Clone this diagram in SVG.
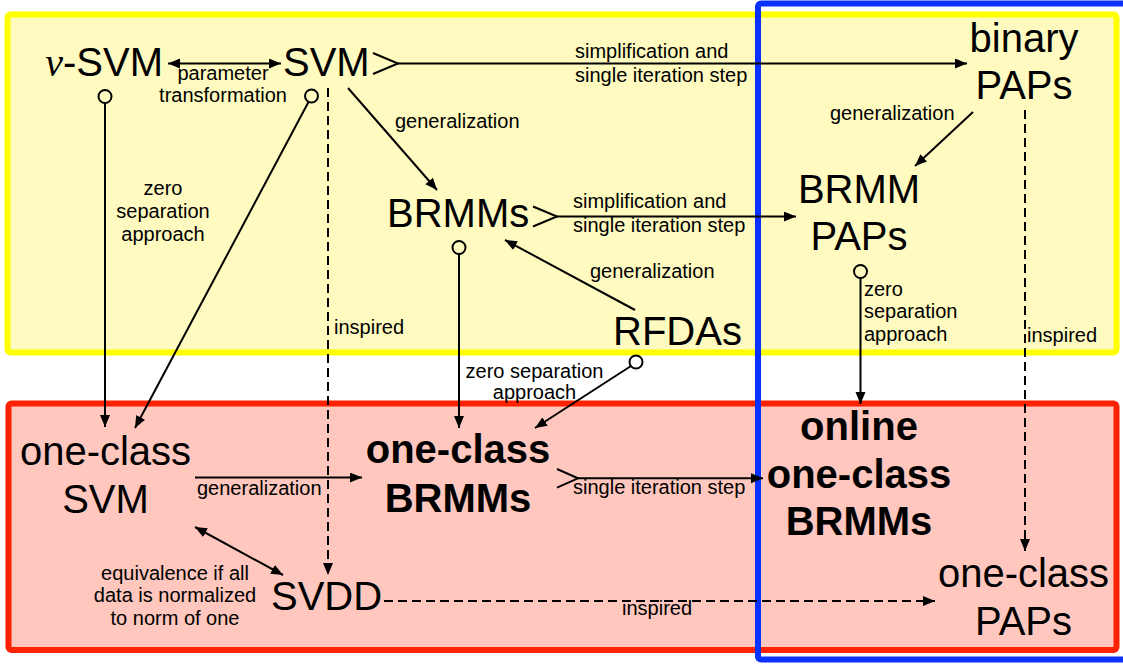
<svg xmlns="http://www.w3.org/2000/svg" width="1123" height="664" viewBox="0 0 1123 664">
<style>
text{font-family:"Liberation Sans",Arial,sans-serif;fill:#000}
.n{font-size:40px}
.b{font-size:40px;font-weight:bold}
.l{font-size:20px}
.c{stroke:#000;stroke-width:2;fill:none}
.d{stroke-dasharray:9,5}
.m{marker-end:url(#ah)}
.o{stroke:#000;stroke-width:2;fill:none}
</style>
<defs>
<marker id="ah" markerUnits="userSpaceOnUse" markerWidth="14" markerHeight="12" refX="12" refY="5" orient="auto-start-reverse">
<path d="M0,0 L12,5 L0,10 z" fill="#000" stroke="none"/>
</marker>
</defs>
<rect width="1123" height="664" fill="#fff"/>
<g id="groups">
<rect x="7.5" y="14.5" width="1109" height="338" rx="3" fill="#fffbc0" stroke="#ffff00" stroke-width="6"/>
<rect x="8.5" y="403.5" width="1108" height="246.5" rx="3" fill="#ffc7bd" stroke="#ff2200" stroke-width="6"/>
<rect x="758" y="3.5" width="380" height="656" rx="3" fill="none" stroke="#0a32ff" stroke-width="6"/>
</g>
<g id="connectors">
<!-- nu-SVM <-> SVM -->
<line class="c" x1="168" y1="63.5" x2="281" y2="63.5" marker-start="url(#ah)" marker-end="url(#ah)"/>
<text class="l" x="223" y="80" text-anchor="middle">parameter</text>
<text class="l" x="223" y="102" text-anchor="middle">transformation</text>
<!-- SVM -> binary PAPs -->
<path class="o" d="M373,53 L398,63.5 L373,74"/>
<line class="c m" x1="398" y1="63.5" x2="967" y2="63.5"/>
<text class="l" x="575" y="58">simplification and</text>
<text class="l" x="575" y="82">single iteration step</text>
<!-- SVM -> BRMMs -->
<line class="c m" x1="348" y1="88" x2="437" y2="190"/>
<text class="l" x="395" y="128">generalization</text>
<!-- nu-SVM -> one-class SVM -->
<circle class="o" cx="105" cy="96.5" r="6.5"/>
<line class="c m" x1="105" y1="103" x2="105" y2="427"/>
<text class="l" x="163" y="195" text-anchor="middle">zero</text>
<text class="l" x="163" y="218" text-anchor="middle">separation</text>
<text class="l" x="163" y="241" text-anchor="middle">approach</text>
<!-- SVM -> one-class SVM -->
<circle class="o" cx="311.5" cy="96" r="6.5"/>
<line class="c m" x1="308.5" y1="102" x2="135" y2="428"/>
<!-- SVM -> SVDD dashed -->
<line class="c d m" x1="328" y1="88" x2="328" y2="575"/>
<text class="l" x="334" y="334">inspired</text>
<!-- BRMMs -> BRMM PAPs -->
<path class="o" d="M533,206.5 L557,216.5 L533,226.5"/>
<line class="c m" x1="557" y1="216.5" x2="796" y2="216.5"/>
<text class="l" x="573" y="208">simplification and</text>
<text class="l" x="573" y="232">single iteration step</text>
<!-- binary PAPs -> BRMM PAPs -->
<line class="c m" x1="973" y1="112" x2="915" y2="166"/>
<text class="l" x="830" y="120">generalization</text>
<!-- RFDAs -> BRMMs -->
<line class="c m" x1="635" y1="310" x2="505" y2="240"/>
<text class="l" x="590" y="278">generalization</text>
<!-- BRMMs -> one-class BRMMs -->
<circle class="o" cx="459" cy="247.5" r="6.5"/>
<line class="c m" x1="459" y1="254" x2="459" y2="428"/>
<text class="l" x="534.5" y="378" text-anchor="middle">zero separation</text>
<text class="l" x="534.5" y="399" text-anchor="middle">approach</text>
<!-- RFDAs -> one-class BRMMs -->
<circle class="o" cx="636" cy="362" r="6.5"/>
<line class="c m" x1="631" y1="366" x2="535" y2="428"/>
<!-- BRMM PAPs -> online one-class BRMMs -->
<circle class="o" cx="860.5" cy="271.5" r="6.5"/>
<line class="c m" x1="860.5" y1="278" x2="860.5" y2="404"/>
<text class="l" x="864" y="296">zero</text>
<text class="l" x="864" y="318">separation</text>
<text class="l" x="864" y="341">approach</text>
<!-- binary PAPs -> one-class PAPs dashed -->
<line class="c d m" x1="1025" y1="110" x2="1025" y2="551"/>
<text class="l" x="1027" y="342">inspired</text>
<!-- one-class SVM -> one-class BRMMs -->
<line class="c m" x1="195" y1="477.5" x2="362" y2="477.5"/>
<text class="l" x="197" y="495">generalization</text>
<!-- one-class SVM <-> SVDD -->
<line class="c" x1="195" y1="527" x2="283" y2="575" marker-start="url(#ah)" marker-end="url(#ah)"/>
<text class="l" x="175" y="580" text-anchor="middle">equivalence if all</text>
<text class="l" x="175" y="602" text-anchor="middle">data is normalized</text>
<text class="l" x="175" y="625" text-anchor="middle">to norm of one</text>
<!-- one-class BRMMs -> online one-class BRMMs -->
<path class="o" d="M557,469 L578,478.3 L557,487.6"/>
<line class="c m" x1="578" y1="478.3" x2="763" y2="478.3"/>
<text class="l" x="573" y="494">single iteration step</text>
<!-- SVDD -> one-class PAPs dashed -->
<line class="c d m" x1="384" y1="601" x2="935" y2="601"/>
<text class="l" x="622" y="615">inspired</text>
</g>
<g id="nu-svm"><text class="n" x="163" y="76" text-anchor="end"><tspan font-family="Liberation Serif" font-style="italic">ν</tspan>-SVM</text></g>
<g id="svm"><text class="n" x="283" y="76">SVM</text></g>
<g id="binary-paps"><text class="n" x="1024" y="52" text-anchor="middle">binary</text><text class="n" x="1024" y="99" text-anchor="middle">PAPs</text></g>
<g id="brmms"><text class="n" x="387" y="227">BRMMs</text></g>
<g id="brmm-paps"><text class="n" x="859" y="203" text-anchor="middle">BRMM</text><text class="n" x="859" y="250" text-anchor="middle">PAPs</text></g>
<g id="rfdas"><text class="n" x="613" y="345">RFDAs</text></g>
<g id="one-class-svm"><text class="n" x="105.5" y="465" text-anchor="middle">one-class</text><text class="n" x="105.5" y="513" text-anchor="middle">SVM</text></g>
<g id="one-class-brmms"><text class="b" x="458" y="463" text-anchor="middle">one-class</text><text class="b" x="458" y="512" text-anchor="middle">BRMMs</text></g>
<g id="online-one-class-brmms"><text class="b" x="859" y="440" text-anchor="middle">online</text><text class="b" x="859" y="488" text-anchor="middle">one-class</text><text class="b" x="859" y="535" text-anchor="middle">BRMMs</text></g>
<g id="svdd"><text class="n" x="271" y="610">SVDD</text></g>
<g id="one-class-paps"><text class="n" x="1023.5" y="587" text-anchor="middle">one-class</text><text class="n" x="1023.5" y="635" text-anchor="middle">PAPs</text></g>
</svg>
